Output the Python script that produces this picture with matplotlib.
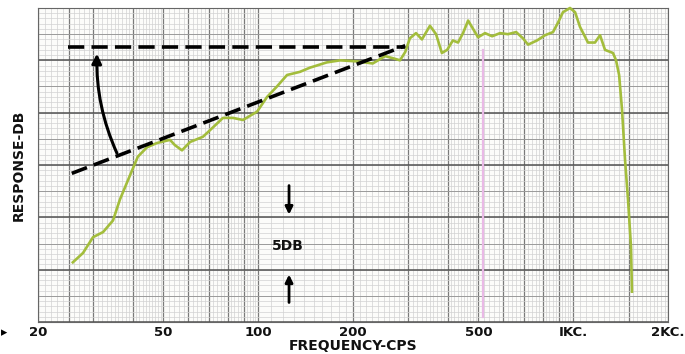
#importing numpy and matplotlib
import numpy as np
import matplotlib.pyplot as plt

#response curve (frequency in cps, response in dB)
freq = [25.8, 27.8, 29.9, 32.2, 34.6, 36.4, 38.3, 39.8, 41.5, 44.4, 47.7,
        52.5, 54.4, 57.3, 60.8, 66.8, 71.9, 77.3, 83.2, 89.5, 99.2, 106.7,
        114.7, 123.5, 135.7, 146, 165, 182, 206, 231, 253, 268, 282, 293,
        303, 317, 331, 351, 367, 383, 398, 415, 431, 447, 464, 499, 525,
        553, 586, 621, 659, 693, 719, 768, 814, 863, 895, 928, 977, 1014,
        1051, 1114, 1173, 1217, 1262, 1338, 1368, 1399, 1429, 1461, 1493,
        1526, 1537]
resp = [5.7, 6.6, 8.1, 8.6, 9.7, 11.7, 13.3, 14.5, 15.8, 16.7, 17.1,
        17.4, 16.9, 16.4, 17.2, 17.7, 18.6, 19.5, 19.5, 19.3, 20.1, 21.5,
        22.5, 23.6, 23.9, 24.3, 24.8, 25.0, 24.9, 24.7, 25.4, 25.2, 25.0, 25.8,
        27.1, 27.6, 27.0, 28.3, 27.5, 25.7, 26.0, 26.9, 26.7, 27.6, 28.8, 27.2,
        27.6, 27.3, 27.6, 27.5, 27.7, 27.1, 26.5, 26.9, 27.4, 27.7, 28.6,
        29.6, 30.0, 29.6, 28.2, 26.7, 26.7, 27.4, 26.0, 25.7, 25.0, 23.6,
        20.3, 15.5, 11.7, 7.2, 2.9]

#dashed guide lines: flat target and sloped low end
flat_f = [24.9, 293]
flat_db = [26.3, 26.3]
slope_f = [25.6, 293]
slope_db = [14.2, 26.4]

#x ticks of the log paper
tick_f = [20, 50, 100, 200, 500, 1000, 2000]
tick_lab = ['20', '50', '100', '200', '500', 'IKC.', '2KC.']

fig = plt.figure(figsize=(6.85, 3.54), dpi=100)
ax = fig.add_axes([38/685, 1-322/354, 630/685, 314/354])
ax.set_xscale('log')
ax.set_xlim(20, 2000)
ax.set_ylim(0, 30)
fig.patch.set_facecolor('white')
ax.set_facecolor('#fcfcfa')

#log paper grid - fine, medium and heavy lines
fine = list(np.arange(20, 50, 1)) + list(np.arange(50, 100, 2)) + \
    list(np.arange(100, 500, 10)) + list(np.arange(500, 1000, 20)) + \
    list(np.arange(1000, 2000, 50))
for f in fine:
    ax.axvline(f, color='#d2d2d2', lw=0.5, zorder=0)
heavy = [20, 25, 30, 40, 50, 60, 70, 80, 90, 100, 200, 300, 400, 500, 600,
         700, 800, 900, 1000, 1500, 2000]
for f in heavy:
    ax.axvline(f, color='#7a7a7a', lw=0.9, zorder=0)
for d in np.arange(0, 30.01, 0.5):
    ax.axhline(d, color='#d2d2d2', lw=0.5, zorder=0)
for d in np.arange(2.5, 30, 5):
    ax.axhline(d, color='#9a9a9a', lw=0.7, zorder=0)
for d in np.arange(0, 30.01, 5):
    ax.axhline(d, color='#505050', lw=1.1, zorder=0)
#faint pink stripe on the scan
ax.plot([517, 517], [0.5, 26], color='#e9b9e6', lw=1.6, zorder=1)

#response curve
ax.plot(freq, resp, color='#a3bd3c', lw=1.9, solid_joinstyle='round',
        clip_on=False, zorder=3)

#dashed lines
ax.plot(flat_f, flat_db, color='black', lw=2.6, dashes=(4.5, 2), zorder=4)
ax.plot(slope_f, slope_db, color='black', lw=2.6, dashes=(4.5, 2), zorder=4)

#curved arrow from sloped line up to the flat line
ax.annotate('', xy=(30.8, 25.9), xytext=(35.9, 15.9),
            arrowprops=dict(arrowstyle='-|>', lw=2.2, color='black',
                            mutation_scale=14,
                            connectionstyle='arc3,rad=-0.12'), zorder=5)

#5 db scale marker
ax.annotate('', xy=(125.3, 10.0), xytext=(125.3, 13.3),
            arrowprops=dict(arrowstyle='-|>', lw=2, color='black',
                            mutation_scale=11))
ax.annotate('', xy=(125.3, 4.8), xytext=(125.3, 1.6),
            arrowprops=dict(arrowstyle='-|>', lw=2, color='black',
                            mutation_scale=11))
ax.text(124.4, 7.3, '5DB', ha='center', va='center', fontsize=10,
        fontweight='bold', color='#111111')

#axes and labels
ax.set_xticks(tick_f)
ax.set_xticklabels(tick_lab, fontsize=9.5, fontweight='bold', color='#111111')
ax.minorticks_off()
ax.set_yticks([])
ax.tick_params(axis='x', length=0, pad=3)
for s in ax.spines.values():
    s.set_color('#666666')
    s.set_linewidth(0.8)
ax.set_xlabel('FREQUENCY-CPS', fontsize=10, fontweight='bold',
              color='#111111', labelpad=0)
ax.set_ylabel('RESPONSE-DB', fontsize=10, fontweight='bold',
              color='#111111', labelpad=9)
fig.text(0.002, 1-333/354, '\u25b8', fontsize=9, va='center', color='black')

plt.savefig('out.png', dpi=100)
